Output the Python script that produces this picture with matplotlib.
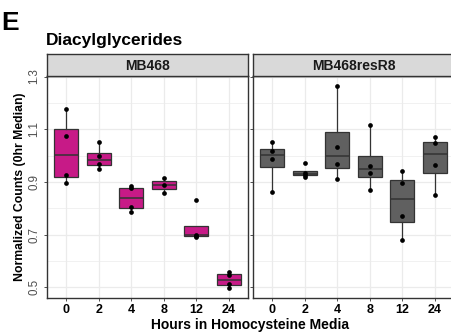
"""
Diacylglycerides boxplots, MB468 vs MB468resR8
"""

import matplotlib
matplotlib.use('Agg')
from matplotlib import pyplot as plt
from matplotlib.ticker import MultipleLocator

plt.rcParams['font.family'] = ['Liberation Sans', 'DejaVu Sans']

# Donnees
hours = ['0', '2', '4', '8', '12', '24']
panels = ['MB468', 'MB468resR8']
mb468 = [
    [0.896, 0.926, 1.075, 1.175],
    [0.949, 0.967, 0.997, 1.050],
    [0.787, 0.805, 0.876, 0.884],
    [0.858, 0.888, 0.915],
    [0.691, 0.695, 0.699, 0.830],
    [0.496, 0.511, 0.547, 0.558],
]
resr8 = [
    [0.862, 0.988, 1.016, 1.050],
    [0.920, 0.926, 0.933, 0.972],
    [0.910, 0.968, 1.032, 1.265],
    [0.869, 0.935, 0.960, 1.117],
    [0.680, 0.771, 0.896, 0.941],
    [0.850, 0.963, 1.048, 1.069],
]
colors = ['#C71A87', '#606060']

W, H = 451, 333
fig = plt.figure(figsize=(W / 100, H / 100), dpi=100)


def px_axes(x0, y0, w, h):
    # coordonnees en pixels depuis le coin haut-gauche
    return fig.add_axes([x0 / W, 1 - (y0 + h) / H, w / W, h / H])


panel_w = 201.6
lefts = [46.7, 252.7]
edge = '#333333'

for i, (name, data, col) in enumerate(zip(panels, [mb468, resr8], colors)):
    ax = px_axes(lefts[i], 76, panel_w, 222)
    pos = list(range(1, len(hours) + 1))
    ax.boxplot(data, positions=pos, widths=0.75, patch_artist=True,
               showfliers=False, showcaps=False, whis=1.5,
               boxprops=dict(facecolor=col, edgecolor=edge, linewidth=0.9),
               medianprops=dict(color=edge, linewidth=1.1),
               whiskerprops=dict(color=edge, linewidth=0.9),
               zorder=3)
    for p, vals in zip(pos, data):
        ax.plot([p] * len(vals), vals, 'o', color='black', markersize=3.4,
                markeredgewidth=0, zorder=4)

    ax.set_xlim(0.4, 6.6)
    ax.set_ylim(0.459, 1.302)
    ax.yaxis.set_major_locator(MultipleLocator(0.2))
    ax.yaxis.set_minor_locator(MultipleLocator(0.1))
    ax.set_yticks([0.5, 0.7, 0.9, 1.1, 1.3])
    ax.set_xticks(pos)
    ax.set_xticklabels(hours, fontsize=9, fontweight='bold', color='black')
    ax.grid(True, which='major', color='#EBEBEB', linewidth=0.9, zorder=0)
    ax.grid(True, which='minor', axis='y', color='#EBEBEB', linewidth=0.5, zorder=0)
    ax.set_axisbelow(True)
    ax.tick_params(axis='both', which='major', length=2.5, width=0.6,
                   color=edge, pad=2)
    ax.tick_params(axis='y', which='minor', length=0)
    for s in ax.spines.values():
        s.set_color(edge)
        s.set_linewidth(1.0)
    if i == 0:
        for lab in ax.get_yticklabels():
            lab.set_rotation(90)
            lab.set_va('center')
            lab.set_fontsize(8.3)
            lab.set_color('#4D4D4D')
        ax.set_ylabel('Normalized Counts (0hr Median)', fontsize=8.8,
                      fontweight='bold', labelpad=2)
    else:
        ax.tick_params(axis='y', labelleft=False)

    # bandeau du panneau
    st = px_axes(lefts[i], 54, panel_w, 22)
    st.set_facecolor('#D9D9D9')
    st.set_xticks([])
    st.set_yticks([])
    for s in st.spines.values():
        s.set_color(edge)
        s.set_linewidth(1.0)
    st.text(0.5, 0.47, name, transform=st.transAxes, ha='center', va='center',
            fontsize=10, fontweight='bold', color='#1A1A1A')

fig.text(250 / W, 1 - 325 / H, 'Hours in Homocysteine Media', ha='center',
         va='center', fontsize=10, fontweight='bold')
fig.text(46 / W, 1 - 41 / H, 'Diacylglycerides', ha='left', va='center',
         fontsize=12.5, fontweight='bold')
fig.text(1 / W, 1 - 23 / H, 'E', ha='left', va='center',
         fontsize=19, fontweight='bold')

fig.savefig('out.png', dpi=100)
